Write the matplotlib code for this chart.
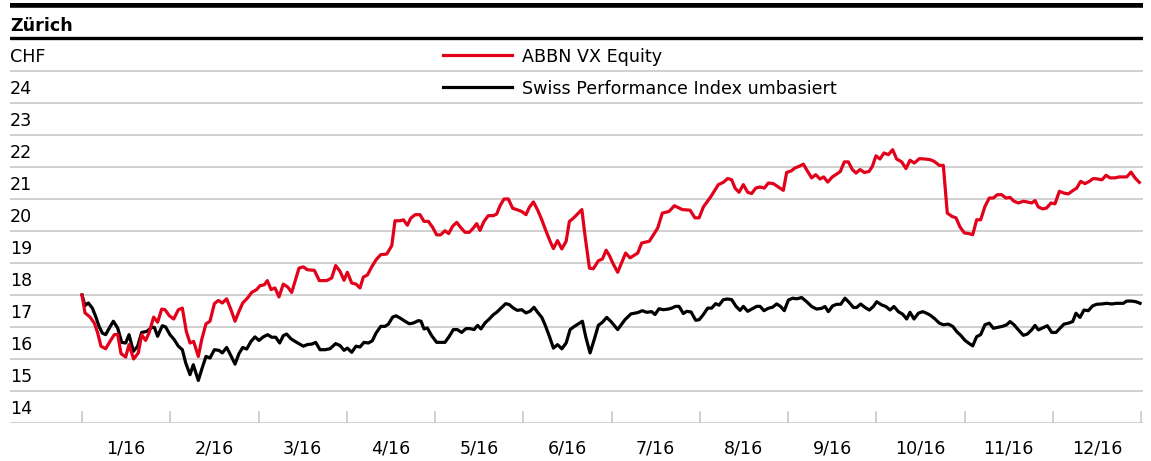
"""ABBN share price vs rebased Swiss Performance Index, 2016."""

import matplotlib

matplotlib.use("Agg")
import matplotlib.pyplot as plt

# x values: months since 31 Dec 2015 (0 = start of January, 12 = end of December)
abbn_month = [
    0.0, 0.034, 0.091, 0.14, 0.178, 0.215, 0.268, 0.317, 0.366, 0.404,
    0.442, 0.495, 0.533, 0.585, 0.638, 0.676, 0.721, 0.759, 0.812, 0.857,
    0.903, 0.941, 0.99, 1.039, 1.092, 1.137, 1.182, 1.224, 1.265, 1.318,
    1.356, 1.405, 1.45, 1.5, 1.545, 1.59, 1.639, 1.688, 1.734, 1.779,
    1.821, 1.877, 1.923, 1.979, 2.017, 2.066, 2.1, 2.142, 2.187, 2.232,
    2.281, 2.331, 2.376, 2.414, 2.459, 2.508, 2.553, 2.633, 2.689, 2.772,
    2.829, 2.874, 2.924, 2.969, 3.007, 3.056, 3.105, 3.15, 3.188, 3.234,
    3.282, 3.332, 3.385, 3.453, 3.51, 3.547, 3.604, 3.642, 3.687, 3.725,
    3.775, 3.83, 3.875, 3.925, 3.974, 4.019, 4.064, 4.113, 4.155, 4.2,
    4.246, 4.291, 4.34, 4.389, 4.434, 4.472, 4.51, 4.555, 4.604, 4.661,
    4.699, 4.737, 4.782, 4.831, 4.88, 4.925, 4.982, 5.031, 5.069, 5.115,
    5.164, 5.21, 5.259, 5.304, 5.342, 5.388, 5.437, 5.486, 5.523, 5.568,
    5.618, 5.664, 5.701, 5.75, 5.794, 5.851, 5.897, 5.939, 5.977, 6.014,
    6.07, 6.16, 6.21, 6.297, 6.342, 6.429, 6.523, 6.576, 6.652, 6.712,
    6.803, 6.89, 6.946, 6.992, 7.041, 7.127, 7.211, 7.267, 7.316, 7.362,
    7.40, 7.445, 7.494, 7.543, 7.588, 7.634, 7.683, 7.732, 7.777, 7.834,
    7.89, 7.947, 7.985, 8.034, 8.079, 8.125, 8.174, 8.223, 8.268, 8.314,
    8.363, 8.404, 8.45, 8.502, 8.552, 8.593, 8.638, 8.684, 8.729, 8.771,
    8.816, 8.865, 8.918, 8.956, 8.997, 9.042, 9.088, 9.137, 9.186, 9.231,
    9.288, 9.337, 9.382, 9.432, 9.488, 9.552, 9.609, 9.654, 9.715, 9.76,
    9.805, 9.855, 9.904, 9.949, 9.998, 10.047, 10.093, 10.138, 10.183, 10.232,
    10.281, 10.327, 10.372, 10.421, 10.47, 10.516, 10.561, 10.61, 10.667, 10.723,
    10.761, 10.799, 10.837, 10.886, 10.931, 10.98, 11.025, 11.075, 11.12, 11.177,
    11.226, 11.271, 11.316, 11.365, 11.414, 11.46, 11.509, 11.558, 11.603, 11.649,
    11.705, 11.754, 11.838, 11.887, 11.932, 11.981,
]
abbn_chf = [
    18.0, 17.44, 17.31, 17.12, 16.81, 16.40, 16.32, 16.55, 16.76, 16.77,
    16.17, 16.06, 16.45, 16.0, 16.19, 16.76, 16.58, 16.81, 17.31, 17.15,
    17.56, 17.54, 17.35, 17.25, 17.54, 17.59, 16.86, 16.5, 16.55, 16.08,
    16.6, 17.1, 17.18, 17.73, 17.83, 17.75, 17.88, 17.54, 17.18, 17.49,
    17.75, 17.91, 18.08, 18.17, 18.29, 18.32, 18.45, 18.17, 18.22, 17.94,
    18.34, 18.25, 18.08, 18.43, 18.84, 18.88, 18.79, 18.77, 18.45, 18.45,
    18.53, 18.92, 18.74, 18.46, 18.71, 18.375, 18.34, 18.22, 18.56, 18.625,
    18.875, 19.10, 19.26, 19.28, 19.54, 20.32, 20.32, 20.35, 20.18, 20.40,
    20.51, 20.51, 20.30, 20.30, 20.11, 19.88, 19.88, 20.01, 19.92, 20.15,
    20.27, 20.11, 19.96, 19.96, 20.09, 20.23, 20.02, 20.30, 20.48, 20.48,
    20.53, 20.79, 21.0, 21.0, 20.71, 20.67, 20.61, 20.51, 20.74, 20.91,
    20.65, 20.35, 19.99, 19.68, 19.45, 19.70, 19.44, 19.68, 20.30, 20.40,
    20.54, 20.67, 19.83, 18.84, 18.82, 19.07, 19.125, 19.40, 19.23, 19.0,
    18.71, 19.31, 19.16, 19.31, 19.625, 19.68, 20.09, 20.56, 20.61, 20.79,
    20.67, 20.65, 20.41, 20.41, 20.75, 21.08, 21.45, 21.52, 21.64, 21.60,
    21.34, 21.21, 21.45, 21.21, 21.17, 21.34, 21.375, 21.34, 21.5, 21.48,
    21.375, 21.27, 21.83, 21.875, 21.97, 22.02, 22.09, 21.86, 21.66, 21.76,
    21.625, 21.69, 21.53, 21.69, 21.78, 21.86, 22.16, 22.16, 21.92, 21.81,
    21.92, 21.83, 21.86, 22.02, 22.35, 22.25, 22.44, 22.385, 22.54, 22.25,
    22.16, 21.95, 22.21, 22.125, 22.26, 22.25, 22.23, 22.18, 22.05, 22.05,
    20.56, 20.46, 20.41, 20.125, 19.94, 19.92, 19.885, 20.35, 20.35, 20.77,
    21.03, 21.03, 21.135, 21.135, 21.03, 21.05, 20.93, 20.875, 20.93, 20.90,
    20.875, 20.95, 20.75, 20.69, 20.72, 20.875, 20.85, 21.24, 21.19, 21.16,
    21.26, 21.34, 21.55, 21.48, 21.55, 21.64, 21.625, 21.60, 21.74, 21.66,
    21.66, 21.69, 21.69, 21.84, 21.66, 21.52,
]

spi_month = [
    0.0, 0.034, 0.072, 0.117, 0.155, 0.193, 0.23, 0.268, 0.31, 0.355,
    0.404, 0.45, 0.495, 0.533, 0.582, 0.631, 0.676, 0.733, 0.79, 0.82,
    0.857, 0.91, 0.948, 0.997, 1.046, 1.092, 1.137, 1.175, 1.224, 1.261,
    1.318, 1.356, 1.405, 1.45, 1.5, 1.552, 1.59, 1.639, 1.688, 1.734,
    1.779, 1.821, 1.866, 1.915, 1.96, 2.005, 2.054, 2.104, 2.149, 2.195,
    2.24, 2.281, 2.319, 2.368, 2.414, 2.459, 2.508, 2.553, 2.61, 2.648,
    2.697, 2.754, 2.81, 2.874, 2.924, 2.969, 3.007, 3.056, 3.105, 3.15,
    3.195, 3.245, 3.29, 3.332, 3.385, 3.434, 3.472, 3.52, 3.558, 3.604,
    3.66, 3.71, 3.755, 3.812, 3.842, 3.875, 3.913, 3.962, 4.019, 4.068,
    4.113, 4.162, 4.208, 4.253, 4.302, 4.351, 4.396, 4.442, 4.483, 4.521,
    4.566, 4.615, 4.661, 4.699, 4.748, 4.801, 4.842, 4.888, 4.933, 4.982,
    5.031, 5.076, 5.122, 5.16, 5.21, 5.247, 5.296, 5.342, 5.388, 5.437,
    5.486, 5.531, 5.58, 5.625, 5.67, 5.711, 5.757, 5.806, 5.851, 5.897,
    5.946, 5.991, 6.07, 6.153, 6.221, 6.297, 6.349, 6.398, 6.455, 6.493,
    6.538, 6.587, 6.644, 6.682, 6.727, 6.765, 6.814, 6.852, 6.901, 6.954,
    6.995, 7.041, 7.09, 7.135, 7.18, 7.218, 7.267, 7.316, 7.362, 7.411,
    7.456, 7.494, 7.543, 7.588, 7.645, 7.683, 7.728, 7.777, 7.826, 7.872,
    7.917, 7.958, 8.004, 8.053, 8.098, 8.155, 8.212, 8.268, 8.325, 8.382,
    8.419, 8.457, 8.506, 8.552, 8.597, 8.646, 8.695, 8.741, 8.778, 8.823,
    8.873, 8.922, 8.967, 9.005, 9.061, 9.11, 9.156, 9.201, 9.25, 9.299,
    9.345, 9.382, 9.428, 9.477, 9.526, 9.571, 9.617, 9.666, 9.715, 9.76,
    9.817, 9.866, 9.911, 9.96, 10.006, 10.055, 10.093, 10.138, 10.183, 10.232,
    10.281, 10.327, 10.376, 10.429, 10.478, 10.516, 10.561, 10.61, 10.667, 10.712,
    10.761, 10.799, 10.837, 10.893, 10.939, 10.988, 11.037, 11.082, 11.127, 11.177,
    11.226, 11.263, 11.309, 11.354, 11.403, 11.452, 11.498, 11.554, 11.611, 11.668,
    11.724, 11.8, 11.837, 11.894, 11.943, 11.989,
]
spi_rebased = [
    18.0, 17.67, 17.75, 17.59, 17.33, 17.02, 16.81, 16.76, 16.97, 17.18,
    16.97, 16.52, 16.5, 16.76, 16.24, 16.40, 16.83, 16.86, 16.99, 16.99,
    16.71, 17.04, 17.0, 16.76, 16.60, 16.40, 16.29, 15.88, 15.51, 15.82,
    15.33, 15.67, 16.08, 16.03, 16.29, 16.27, 16.19, 16.36, 16.10, 15.84,
    16.17, 16.36, 16.31, 16.55, 16.69, 16.58, 16.69, 16.76, 16.68, 16.68,
    16.5, 16.73, 16.78, 16.63, 16.55, 16.48, 16.40, 16.45, 16.47, 16.52,
    16.29, 16.29, 16.32, 16.48, 16.42, 16.27, 16.34, 16.21, 16.40, 16.375,
    16.52, 16.5, 16.57, 16.81, 17.02, 17.02, 17.09, 17.31, 17.35, 17.28,
    17.18, 17.10, 17.125, 17.20, 17.18, 16.94, 16.97, 16.73, 16.52, 16.52,
    16.52, 16.71, 16.92, 16.92, 16.83, 16.95, 16.95, 16.92, 17.05, 16.94,
    17.125, 17.25, 17.385, 17.46, 17.59, 17.73, 17.70, 17.59, 17.52, 17.54,
    17.44, 17.49, 17.615, 17.47, 17.30, 17.07, 16.71, 16.34, 16.45, 16.32,
    16.5, 16.92, 17.02, 17.10, 17.18, 16.66, 16.19, 16.625, 17.05, 17.15,
    17.30, 17.18, 16.92, 17.23, 17.41, 17.45, 17.51, 17.46, 17.48, 17.39,
    17.57, 17.54, 17.56, 17.59, 17.645, 17.645, 17.42, 17.49, 17.47, 17.21,
    17.23, 17.39, 17.59, 17.59, 17.73, 17.68, 17.855, 17.875, 17.855, 17.645,
    17.52, 17.645, 17.49, 17.56, 17.645, 17.645, 17.51, 17.585, 17.62, 17.72,
    17.64, 17.51, 17.84, 17.90, 17.88, 17.92, 17.79, 17.64, 17.56, 17.585,
    17.64, 17.48, 17.66, 17.71, 17.71, 17.90, 17.76, 17.61, 17.61, 17.72,
    17.61, 17.53, 17.64, 17.79, 17.69, 17.64, 17.53, 17.64, 17.48, 17.40,
    17.25, 17.46, 17.25, 17.43, 17.48, 17.43, 17.36, 17.25, 17.12, 17.07,
    17.09, 17.02, 16.86, 16.73, 16.58, 16.48, 16.41, 16.70, 16.76, 17.07,
    17.12, 16.96, 16.99, 17.02, 17.07, 17.17, 17.07, 16.91, 16.74, 16.78,
    16.91, 17.05, 16.91, 16.98, 17.04, 16.83, 16.83, 16.96, 17.09, 17.12,
    17.17, 17.43, 17.30, 17.53, 17.51, 17.66, 17.71, 17.72, 17.74, 17.72,
    17.74, 17.74, 17.81, 17.81, 17.79, 17.74,
]

y_levels = [14, 15, 16, 17, 18, 19, 20, 21, 22, 23, 24]
month_labels = ["1/16", "2/16", "3/16", "4/16", "5/16", "6/16",
                "7/16", "8/16", "9/16", "10/16", "11/16", "12/16"]

RED = "#e2001a"
GRID = "#c8c8c8"

plt.rcParams["font.family"] = ["DejaVu Sans"]
FS = 12.6

fig = plt.figure(figsize=(11.51, 4.61), dpi=100)
# axes spans the whole table area: 14 at the bottom rule, one row = 32 px
ax = fig.add_axes([10 / 1151, 38 / 461, 1133 / 1151, 420 / 461])
ax.set_xlim(-72 / 88.25, 1061 / 88.25)
ax.set_ylim(14, 14 + 420 / 32)
ax.axis("off")

# row rules
for level in y_levels + [25]:
    ax.axhline(level, color=GRID, linewidth=1.2, zorder=1)
ax.axhline(26.03, color="black", linewidth=2.4, zorder=1)
ax.axhline(27.05, color="black", linewidth=4.0, zorder=1)

# row labels
ytrans = ax.get_yaxis_transform()
for level in y_levels:
    ax.text(0, level + 0.28, str(level), transform=ytrans, fontsize=FS, va="baseline", ha="left")
ax.text(0, 25.28, "CHF", transform=ytrans, fontsize=FS, va="baseline", ha="left")
ax.text(0, 26.25, "Zürich", transform=ytrans, fontsize=FS, fontweight="bold", va="baseline", ha="left")

# month ticks and labels
for m in range(13):
    ax.plot([m, m], [14, 14 + 11 / 32], color=GRID, linewidth=1.2, zorder=1)
for m, label in enumerate(month_labels):
    ax.text(m + 0.5, 14 - 30 / 32, label, fontsize=FS, ha="center", va="baseline", clip_on=False)

# series
ax.plot(spi_month, spi_rebased, color="black", linewidth=2.3, zorder=3,
        solid_joinstyle="round")
ax.plot(abbn_month, abbn_chf, color=RED, linewidth=2.3, zorder=4,
        solid_joinstyle="round")

# legend drawn as table rows
ax.plot([4.09, 4.87], [25.5, 25.5], color=RED, linewidth=2.3)
ax.text(4.99, 25.28, "ABBN VX Equity", fontsize=FS, va="baseline", ha="left")
ax.plot([4.09, 4.87], [24.5, 24.5], color="black", linewidth=2.3)
ax.text(4.99, 24.28, "Swiss Performance Index umbasiert", fontsize=FS, va="baseline", ha="left")

fig.savefig("out.png", dpi=100)
